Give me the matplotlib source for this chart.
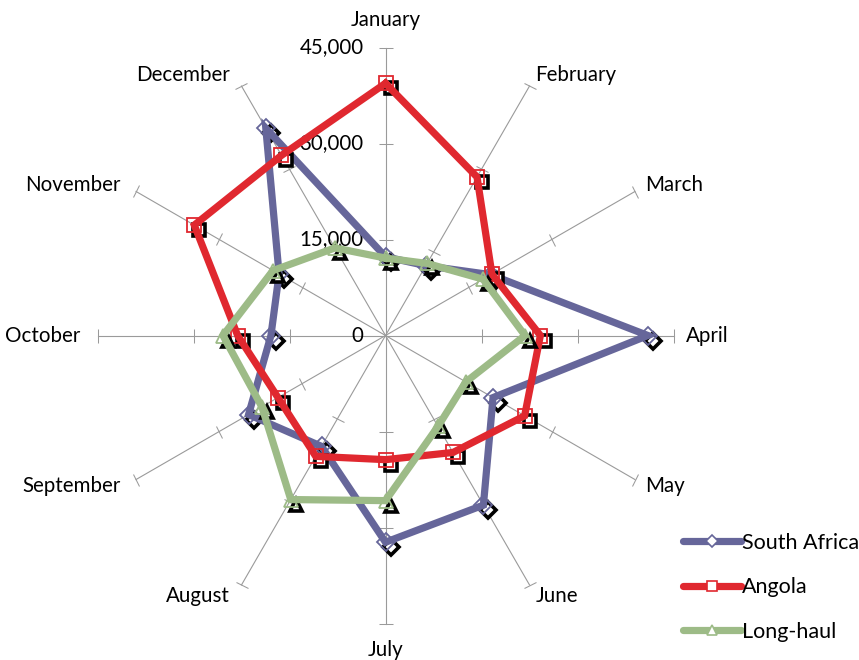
import numpy as np
import matplotlib
matplotlib.use("Agg")
import matplotlib.pyplot as plt
from matplotlib.transforms import offset_copy, Affine2D
from matplotlib.markers import MarkerStyle
from matplotlib.lines import Line2D

plt.rcParams['font.family'] = ['Lato', 'DejaVu Sans']

months = ["January", "February", "March", "April", "May", "June",
          "July", "August", "September", "October", "November", "December"]
south_africa = [12300, 12600, 19000, 41000, 19400, 30600,
                32300, 20000, 24700, 17900, 19200, 37400]
angola = [39400, 28600, 19200, 24200, 25100, 21100,
          19400, 21800, 19400, 23100, 34500, 32500]
long_haul = [12100, 13000, 17600, 21800, 14500, 16400,
             25800, 29600, 22300, 25400, 20300, 15800]
r_ticks = [0, 15000, 30000, 45000]
r_tick_labels = ["0", "15,000", "30,000", "45,000"]
r_max = 45000

series = [
    ("South Africa", south_africa, "#66669A", "D"),
    ("Angola", angola, "#E0282F", "s"),
    ("Long-haul", long_haul, "#9DBB87", "^"),
]

W, H, DPI = 859, 660, 100
fig = plt.figure(figsize=(W / DPI, H / DPI), dpi=DPI)
cx, cy, R = 385.5, 336, 288
ax = fig.add_axes([(cx - R) / W, (H - cy - R + 0.5) / H, 2 * R / W, 2 * R / H],
                  projection="polar")
ax.set_theta_zero_location("N")
ax.set_theta_direction(-1)
ax.set_ylim(0, r_max)
ax.grid(False)
ax.set_xticks([])
ax.set_yticks([])
ax.spines["polar"].set_visible(False)
ax.patch.set_alpha(0)

n = len(months)
theta = np.arange(n) * 2 * np.pi / n
grid_col = "#9A9A9A"

# spokes and tick marks
for i, t in enumerate(theta):
    ax.plot([t, t], [0, r_max], color=grid_col, lw=0.8, zorder=1, clip_on=False)
    deg = np.degrees(t)
    m = MarkerStyle("_", transform=Affine2D().rotate_deg(-deg))
    ax.plot([t] * 3, r_ticks[1:], linestyle="none", marker=m, markersize=9.5,
            markeredgecolor=grid_col, markeredgewidth=0.75, zorder=1, clip_on=False)

# radial value labels along January axis
for v, lab in zip(r_ticks, r_tick_labels):
    ax.annotate(lab, xy=(0, v), xytext=(-22, 0), textcoords="offset pixels",
                ha="right", va="center", fontsize=14.8, color="#000000")

# month labels
for t, name in zip(theta, months):
    s, c = np.sin(t), np.cos(t)
    if abs(s) < 0.1:
        ha = "center"
        va = "bottom" if c > 0 else "top"
        dx, dy = 0, 17 * c
    else:
        va = "center"
        dy = 13 * c
        if s > 0:
            ha = "left"
            dx = 12 * s
        else:
            ha = "right"
            dx = -(6 + 11 * abs(s))
    ax.annotate(name, xy=(t, r_max), xytext=(dx, dy), textcoords="offset pixels",
                ha=ha, va=va, fontsize=14.8, color="#000000")

shadow_tr = offset_copy(ax.transData, fig=fig, x=5, y=-5, units="dots")
th_closed = np.append(theta, theta[0])
for k, (name, vals, col, mk) in enumerate(series):
    v = np.append(vals, vals[0])
    z = 3 + 3 * k
    ax.plot(theta, vals, transform=shadow_tr, linestyle="none", marker=mk,
            markersize=9 if mk != "D" else 8, markerfacecolor="white",
            markeredgecolor="black", markeredgewidth=2.6, zorder=z, clip_on=False)
    ax.plot(th_closed, v, color=col, lw=5.2, solid_joinstyle="miter", zorder=z + 1,
            clip_on=False)
    ax.plot(theta, vals, linestyle="none", marker=mk,
            markersize=10.5 if mk != "D" else 9.5, markerfacecolor="none",
            markeredgecolor=col, markeredgewidth=1.3, zorder=z + 2, clip_on=False)

handles = [Line2D([0], [0], color=col, lw=5.2, solid_capstyle="round", marker=mk,
                  markersize=7 if mk != "D" else 6, markerfacecolor="white",
                  markeredgecolor=col, markeredgewidth=1.2)
           for name, vals, col, mk in series]
fig.legend(handles, [s[0] for s in series], loc="upper left",
           bbox_to_anchor=(674 / W, 1 - 524 / H), frameon=False, fontsize=15.5,
           handlelength=2.7, handletextpad=0.06, labelspacing=1.14, borderaxespad=0)

fig.savefig("out.png", dpi=DPI)
